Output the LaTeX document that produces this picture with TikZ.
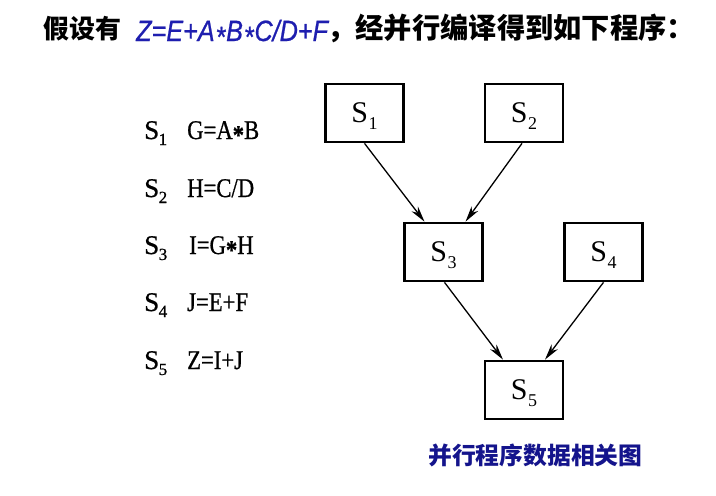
\documentclass[tikz,border=0pt]{standalone}
\usepackage{fontspec}
\setmainfont{Liberation Serif}
\newfontfamily\cjk{Noto Sans CJK SC}
\newfontfamily\formfont{Liberation Sans}[ItalicFeatures={FakeBold=0.8}]
\newfontfamily\eqfont{Liberation Serif}[FakeBold=0.8]
\usetikzlibrary{arrows.meta,calc}
\definecolor{formblue}{RGB}{30,30,175}
\definecolor{capblue}{RGB}{20,20,140}
\newcommand{\blabel}[1]{\fontsize{30}{30}\selectfont S\kern0.5pt\raisebox{-7pt}[0pt][0pt]{\fontsize{18}{18}\selectfont #1}}
\newcommand{\llabel}[1]{\eqfont\fontsize{27}{27}\selectfont S\kern-0.5pt\raisebox{-6pt}[0pt][0pt]{\fontsize{17}{17}\selectfont #1}}
\newcommand{\eqn}[1]{\scalebox{0.84}[1]{\eqfont\fontsize{27}{27}\selectfont #1}}
\newcommand{\myast}{\raisebox{-5pt}[0pt][0pt]{\textbf{*}}}
\newcommand{\fast}{\kern1pt\raisebox{-6pt}[0pt][0pt]{*}\kern1pt}
\begin{document}
\begin{tikzpicture}[x=1pt,y=-1pt,
 stmt/.style={draw,line width=2.7pt,minimum width=78pt,minimum height=58pt,inner sep=0pt,font=\fontsize{30}{30}\selectfont},
 dep/.style={line width=1.3pt,-{Stealth[length=16pt,width=8pt,inset=5pt]}},
 txt/.style={inner sep=0pt,anchor=base west}]
\useasboundingbox (0,0) rectangle (716,496);
\fill[white] (0,0) rectangle (716,496);
% title
\node[txt] (t1) at (43,38.5) {\cjk\bfseries\fontsize{26}{26}\selectfont 假设有};
\node[txt,text=formblue] (tf) at (136,41) {\scalebox{0.86}[1]{\formfont\itshape\fontsize{29.3}{29.3}\selectfont Z=E+A\fast B\fast C/D+F}};
\node[txt] (t2) at (327,38.6) {\cjk\bfseries\fontsize{28.3}{28.3}\selectfont ，经并行编译得到如下程序：};
% statements list
\node[txt] (l1) at (144,139) {\llabel{1}};
\node[txt] (l2) at (144,197) {\llabel{2}};
\node[txt] (l3) at (144,254) {\llabel{3}};
\node[txt] (l4) at (144,311) {\llabel{4}};
\node[txt] (l5) at (144,369) {\llabel{5}};
\node[txt] (e1) at (187,139) {\eqn{G=A\myast B}};
\node[txt] (e2) at (187,197) {\eqn{H=C/D}};
\node[txt] (e3) at (189,254) {\eqn{I=G\myast H}};
\node[txt] (e4) at (187,311) {\eqn{J=E+F}};
\node[txt] (e5) at (187,369) {\eqn{Z=I+J}};
% graph
\node[stmt] (S1) at (364.5,113) {\blabel{1}};
\node[stmt] (S2) at (524,113) {\blabel{2}};
\node[stmt] (S3) at (443.5,252) {\blabel{3}};
\node[stmt] (S4) at (603.5,252) {\blabel{4}};
\node[stmt] (S5) at (524,390) {\blabel{5}};
\draw[dep] (S1.south) -- ($(S3.north)+(-19,0)$);
\draw[dep] ($(S2.south)+(-2,0)$) -- ($(S3.north)+(22,0)$);
\draw[dep] ($(S3.south)+(1,0)$) -- ($(S5.north)+(-21,0)$);
\draw[dep] (S4.south) -- ($(S5.north)+(21,0)$);
% caption
\node[txt,text=capblue] (cap) at (428,464) {\cjk\bfseries\fontsize{23.8}{23.8}\selectfont 并行程序数据相关图};
\end{tikzpicture}
\end{document}
